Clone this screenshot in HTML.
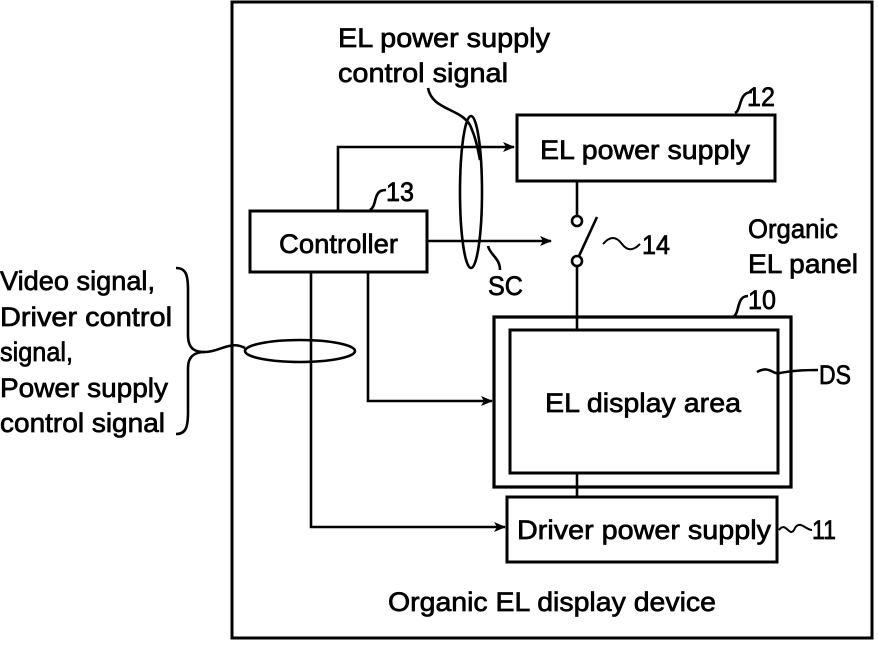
<!DOCTYPE html>
<html><head><meta charset="utf-8"><style>
html,body{margin:0;padding:0;background:#fff}
svg text{font-family:"Liberation Sans Narrow","Liberation Sans",sans-serif;fill:#000;stroke:#000;stroke-width:0.7}
</style></head><body>
<svg width="878" height="643" viewBox="0 0 878 643" xmlns="http://www.w3.org/2000/svg">
<defs><marker id="a" markerWidth="12" markerHeight="10" refX="11" refY="5" orient="auto" markerUnits="userSpaceOnUse"><path d="M0,0 L12,5 L0,10 L3,5 Z" fill="#000"/></marker></defs>
<g fill="none" stroke="#000" stroke-width="2.6">
<rect x="232" y="2" width="640" height="636" stroke-width="3"/>
<rect x="517" y="115" width="258" height="66" stroke-width="3"/>
<rect x="250" y="211" width="177" height="61" stroke-width="3"/>
<rect x="494" y="317" width="297" height="170" stroke-width="3.2"/>
<rect x="510" y="330" width="268" height="143" stroke-width="3"/>
<rect x="507" y="497" width="270" height="65" stroke-width="3"/>
<polyline points="338,211 338,147 514,147" marker-end="url(#a)"/>
<line x1="427" y1="241" x2="551" y2="241" marker-end="url(#a)"/>
<line x1="577" y1="181" x2="577" y2="216"/>
<circle cx="577" cy="221" r="5"/>
<circle cx="577" cy="261" r="5"/>
<line x1="579" y1="256" x2="597" y2="217"/>
<line x1="577" y1="266" x2="577" y2="330"/>
<line x1="577" y1="473" x2="577" y2="497"/>
<polyline points="311,272 311,527 505,527" marker-end="url(#a)"/>
<polyline points="368,272 368,401 492,401" marker-end="url(#a)"/>
<ellipse cx="300" cy="351" rx="55" ry="11"/>
<ellipse cx="471" cy="192" rx="11" ry="76"/>
<path d="M428,88 C432,110 460,108 470,125 C476,138 478,150 480,160"/>
<path d="M488,246 C490,255 500,258 500,270"/>
<path d="M176,268 C186,268 188,275 188,290 L188,335 C188,350 196,352 205,352 C220,352 230,340 245,348"/>
<path d="M176,434 C186,434 188,427 188,412 L188,368 C188,355 196,352 205,352"/>
<path d="M735,113 C742,110 738,92 752,92"/>
<path d="M370,210 C378,205 372,190 386,190"/>
<path d="M733,317 C740,314 736,296 748,296"/>
<path d="M757,372 C770,365 772,375 780,373 C790,371 800,370 818,370"/>
<path d="M779,530 C786,520 790,540 795,528 C800,520 806,530 812,530" stroke-width="2"/>
<path d="M603,244 C610,236 616,236 622,244 C628,252 634,250 640,244" stroke-width="2"/>
</g>
<g font-size="27">
<text x="338" y="47" textLength="212" lengthAdjust="spacingAndGlyphs">EL power supply</text>
<text x="338" y="82" textLength="170" lengthAdjust="spacingAndGlyphs">control signal</text>
<text x="540" y="159" textLength="210" lengthAdjust="spacingAndGlyphs">EL power supply</text>
<text x="279" y="253" textLength="119" lengthAdjust="spacingAndGlyphs">Controller</text>
<text x="747" y="106" textLength="28" lengthAdjust="spacingAndGlyphs">12</text>
<text x="386" y="201" textLength="28" lengthAdjust="spacingAndGlyphs">13</text>
<text x="642" y="254" textLength="28" lengthAdjust="spacingAndGlyphs">14</text>
<text x="488" y="295" textLength="35" lengthAdjust="spacingAndGlyphs">SC</text>
<text x="748" y="238" textLength="90" lengthAdjust="spacingAndGlyphs">Organic</text>
<text x="748" y="273" textLength="110" lengthAdjust="spacingAndGlyphs">EL panel</text>
<text x="748" y="309" textLength="28" lengthAdjust="spacingAndGlyphs">10</text>
<text x="819" y="384" textLength="32" lengthAdjust="spacingAndGlyphs">DS</text>
<text x="545" y="412" textLength="196" lengthAdjust="spacingAndGlyphs">EL display area</text>
<text x="517" y="539" textLength="254" lengthAdjust="spacingAndGlyphs">Driver power supply</text>
<text x="812" y="539" textLength="24" lengthAdjust="spacingAndGlyphs">11</text>
<text x="388" y="611" textLength="328" lengthAdjust="spacingAndGlyphs">Organic EL display device</text>
<text x="0" y="290" textLength="155" lengthAdjust="spacingAndGlyphs">Video signal,</text>
<text x="0" y="326" textLength="172" lengthAdjust="spacingAndGlyphs">Driver control</text>
<text x="0" y="361" textLength="73" lengthAdjust="spacingAndGlyphs">signal,</text>
<text x="0" y="397" textLength="168" lengthAdjust="spacingAndGlyphs">Power supply</text>
<text x="0" y="432" textLength="165" lengthAdjust="spacingAndGlyphs">control signal</text>
</g>
</svg>
</body></html>
